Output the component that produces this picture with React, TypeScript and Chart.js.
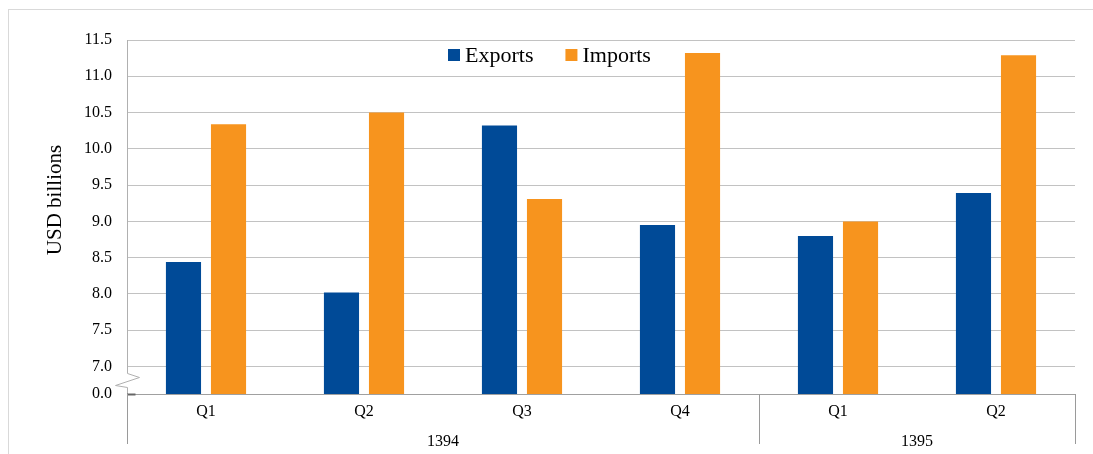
import React, { useEffect, useRef } from "react";
import { Chart, registerables } from "chart.js";

Chart.register(...registerables);

const quarters = ["Q1", "Q2", "Q3", "Q4", "Q1", "Q2"];
const years = ["1394", "1395"];
const yearSpans = [4, 2];
const exportsData = [8.44, 8.02, 10.32, 8.95, 8.8, 9.39];
const importsData = [10.34, 10.5, 9.31, 11.32, 9.0, 11.29];
const yTickValues = [7.0, 7.5, 8.0, 8.5, 9.0, 9.5, 10.0, 10.5, 11.0, 11.5];
const breakValue = 6.621; // drawn as "0.0" under the axis break
const breakLabel = "0.0";

const FONT = '"Liberation Serif", "Times New Roman", serif';
const BLUE = "#004A97";
const ORANGE = "#F7941E";

const decorPlugin = {
  id: "decor",
  beforeDraw(chart: any) {
    const ctx = chart.ctx;
    ctx.save();
    ctx.strokeStyle = "#d9d9d9";
    ctx.lineWidth = 1;
    ctx.strokeRect(8.5, 9.5, 1200, 600);
    ctx.restore();
  },
  afterDraw(chart: any) {
    const ctx = chart.ctx;
    const { left, top, bottom } = chart.chartArea;
    const xS = chart.scales.x;
    const yS = chart.scales.y;
    const y7 = yS.getPixelForValue(7);
    const ax = Math.round(left) + 0.5;
    ctx.save();

    // left axis with break
    ctx.strokeStyle = "#b0b0b0";
    ctx.lineWidth = 1;
    ctx.beginPath();
    ctx.moveTo(ax, top);
    ctx.lineTo(ax, y7 + 7);
    ctx.lineTo(ax + 12, y7 + 11);
    ctx.lineTo(ax - 12, y7 + 19);
    ctx.lineTo(ax, y7 + 21);
    ctx.lineTo(ax, bottom);
    ctx.stroke();

    // dark stub at base
    ctx.strokeStyle = "#666666";
    ctx.lineWidth = 2;
    ctx.beginPath();
    ctx.moveTo(ax - 0.5, Math.round(bottom) + 0.5);
    ctx.lineTo(ax + 8, Math.round(bottom) + 0.5);
    ctx.stroke();

    // category separators and labels
    const catW = (xS.right - xS.left) / quarters.length;
    ctx.strokeStyle = "#9a9a9a";
    ctx.lineWidth = 1;
    let start = 0;
    const bounds: number[] = [0];
    yearSpans.forEach((s) => {
      start += s;
      bounds.push(start);
    });
    ctx.beginPath();
    bounds.forEach((b) => {
      const px = Math.round(xS.left + b * catW) + 0.5;
      ctx.moveTo(px, bottom);
      ctx.lineTo(px, 444);
    });
    ctx.stroke();

    ctx.fillStyle = "#000";
    ctx.font = `16px ${FONT}`;
    ctx.textAlign = "center";
    ctx.textBaseline = "middle";
    quarters.forEach((q, i) => {
      ctx.fillText(q, xS.getPixelForValue(i), 412);
    });
    years.forEach((yl, gi) => {
      const cx = xS.left + ((bounds[gi] + bounds[gi + 1]) / 2) * catW;
      ctx.fillText(yl, cx, 442);
    });

    // legend
    ctx.font = `22px ${FONT}`;
    ctx.textAlign = "left";
    let lx = 448;
    chart.data.datasets.forEach((ds: any) => {
      ctx.fillStyle = ds.backgroundColor;
      ctx.fillRect(lx, 49, 12, 12);
      ctx.fillStyle = "#000";
      ctx.fillText(ds.label, lx + 17, 56);
      lx += 17 + ctx.measureText(ds.label).width + 32;
    });

    // y title
    ctx.translate(55, 200);
    ctx.rotate(-Math.PI / 2);
    ctx.font = `21px ${FONT}`;
    ctx.textAlign = "center";
    ctx.fillText("USD billions", 0, 0);
    ctx.restore();
  },
};

export default function App() {
  const ref = useRef<HTMLCanvasElement>(null);
  useEffect(() => {
    const chart = new Chart(ref.current as HTMLCanvasElement, {
      type: "bar",
      data: {
        labels: quarters.map((q, i) => q + "_" + i),
        datasets: [
          { label: "Exports", data: exportsData, backgroundColor: BLUE, borderWidth: 0 },
          { label: "Imports", data: importsData, backgroundColor: ORANGE, borderWidth: 0 },
        ],
      },
      options: {
        animation: false,
        responsive: true,
        maintainAspectRatio: false,
        events: [],
        layout: { padding: { left: 0, top: 40, right: 18, bottom: 0 } },
        datasets: { bar: { categoryPercentage: 0.57, barPercentage: 0.78 } } as any,
        plugins: { legend: { display: false }, tooltip: { enabled: false }, title: { display: false } },
        scales: {
          x: {
            ticks: { display: false },
            grid: { display: false },
            border: { display: false },
            afterFit: (s: any) => {
              s.height = 60;
            },
          },
          y: {
            min: breakValue,
            max: 11.5,
            afterBuildTicks: (s: any) => {
              s.ticks = [breakValue, ...yTickValues].map((v) => ({ value: v }));
            },
            afterFit: (s: any) => {
              s.width = 127;
            },
            ticks: {
              padding: 15,
              color: "#000",
              font: { family: FONT, size: 16 },
              callback: (v: any) => (Number(v) < 7 ? breakLabel : Number(v).toFixed(1)),
            },
            grid: {
              drawTicks: false,
              color: (c: any) => (c.tick && c.tick.value < 7 ? "#a0a0a0" : "#c2c2c2"),
              lineWidth: 1,
            },
            border: { display: false },
          },
        },
      },
      plugins: [decorPlugin],
    });
    return () => chart.destroy();
  }, []);
  return (
    <div style={{ position: "absolute", left: 0, top: 0, width: 1093, height: 454 }}>
      <canvas ref={ref} />
    </div>
  );
}
